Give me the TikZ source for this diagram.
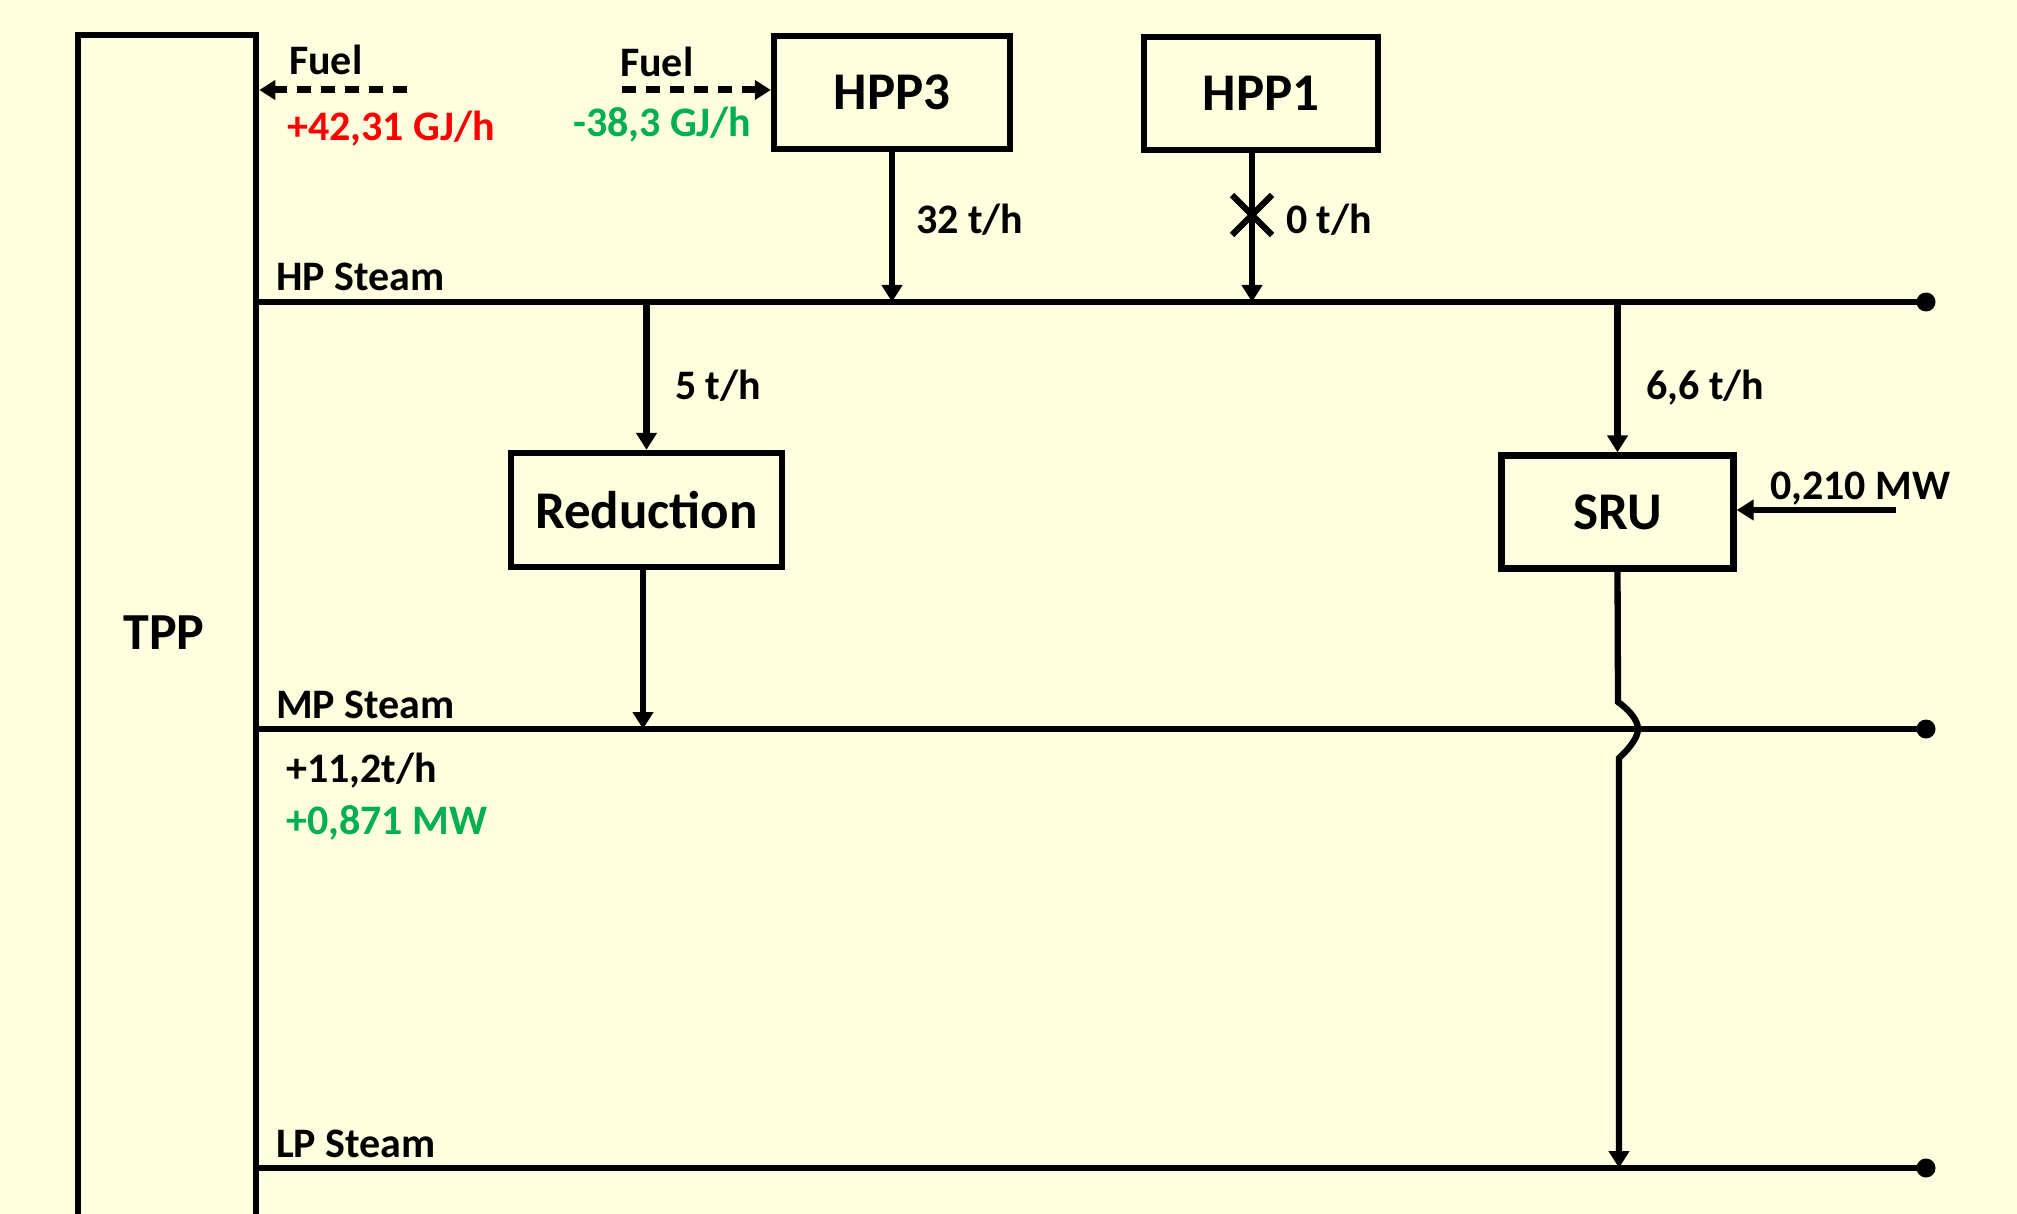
\documentclass[tikz,border=0pt]{standalone}
\usepackage{fontspec}
\setmainfont{Carlito}
\usetikzlibrary{arrows.meta}
\definecolor{bg}{HTML}{FFFFE0}
\definecolor{okgreen}{HTML}{00B050}
\definecolor{hotred}{HTML}{FF0000}
\begin{document}
\begin{tikzpicture}[x=1pt,y=-1pt,
  line width=6.3pt,
  unit/.style={draw,rectangle,inner sep=0pt,font=\fontsize{53}{60}\selectfont\bfseries},
  lbl/.style={anchor=base west,inner sep=0pt,font=\fontsize{42}{48}\selectfont\bfseries},
  flow/.style={-{Triangle[length=17pt,width=20pt]}},
  fuel/.style={-{Triangle[length=16pt,width=19pt]},line width=7pt,dash pattern=on 14pt off 10pt},
  busdot/.style={circle,fill,inner sep=0pt,minimum size=19pt}
]
\useasboundingbox (0,0) rectangle (2017,1214);
\fill[bg] (0,0) rectangle (2017,1214);
\clip (0,0) rectangle (2017,1214);

% plant blocks
\node[unit,minimum width=178pt,minimum height=1260pt,anchor=north west] (tpp) at (75,32) {};
\node[font=\fontsize{52}{60}\selectfont\bfseries] (tpplabel) at (164,633) {TPP};
\node[unit,minimum width=236pt,minimum height=113pt] (hpp3) at (892,92.5) {HPP3};
\node[unit,minimum width=234pt,minimum height=113pt] (hpp1) at (1261,93.5) {HPP1};
\node[unit,minimum width=271pt,minimum height=114pt] (red) at (646.5,510) {Reduction};
\node[unit,minimum width=232pt,minimum height=113pt] (sru) at (1617.5,512) {SRU};

% steam headers
\coordinate (hpL) at (253,302);  \node[busdot] (hpR) at (1926,302) {};
\coordinate (mpL) at (253,729);  \node[busdot] (mpR) at (1926,729) {};
\coordinate (lpL) at (253,1168); \node[busdot] (lpR) at (1926,1168) {};
\draw (hpL) -- (hpR.center);
\draw (mpL) -- (mpR.center);
\draw (lpL) -- (lpR.center);

% fuel supply
\coordinate (fuelA) at (407,90);
\coordinate (fuelB) at (622,90);
\draw[fuel] (fuelA) -- (fuelA -| tpp.east);
\draw[fuel] (fuelB) -- (fuelB -| hpp3.west);

% steam flows
\draw[flow] (hpp3.south) -- (hpp3.south |- hpL);
\coordinate (h1) at (1252,150);
\draw[flow] (h1) -- (h1 |- hpL);
\draw (1232,195) -- (1272,235) (1232,235) -- (1272,195);
\draw[flow] (red.north |- hpL) -- (red.north);
\coordinate (r1) at (643,567);
\draw[flow] (r1) -- (r1 |- mpL);
\draw[flow] (sru.north |- hpL) -- (sru.north);
\coordinate (s1) at (1618,702);
\coordinate (s2) at (1619,758);
\draw[flow] (sru.south) -- (s1)
  .. controls (1632,712) and (1638,722) .. (1638,729)
  .. controls (1638,736) and (1632,746) .. (s2) -- (s2 |- lpL);
\coordinate (pw) at (1896,510);
\draw[flow] (pw) -- (pw -| sru.east);

% labels
\node[lbl] (t1) at (286,75) {Fuel};
\node[lbl,text=hotred] (t2) at (284,141) {+42,31 GJ/h};
\node[lbl] (t3) at (617,77) {Fuel};
\node[lbl,text=okgreen] (t4) at (570,137) {-38,3 GJ/h};
\node[lbl] (t5) at (913,234) {32 t/h};
\node[lbl] (t6) at (1283,234) {0 t/h};
\node[lbl] (t7) at (273,291) {HP Steam};
\node[lbl] (t8) at (672,399) {5 t/h};
\node[lbl] (t9) at (1643,399) {6,6 t/h};
\node[lbl] (t10) at (1767,499) {0,210 MW};
\node[lbl] (t11) at (273,718) {MP Steam};
\node[lbl] (t12) at (283,782) {+11,2t/h};
\node[lbl,text=okgreen] (t13) at (283,834) {+0,871 MW};
\node[lbl] (t14) at (273,1157) {LP Steam};
\end{tikzpicture}
\end{document}
